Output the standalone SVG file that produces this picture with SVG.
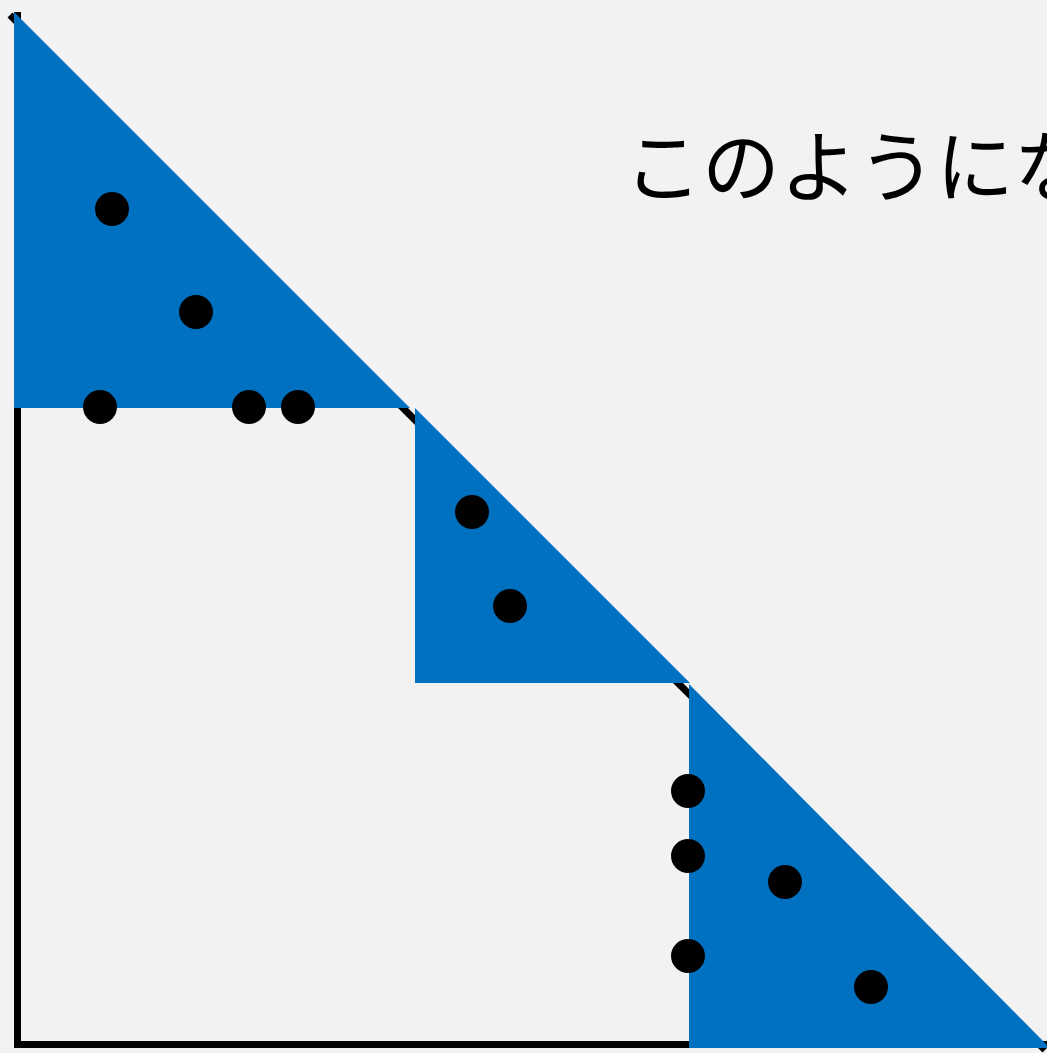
<svg xmlns="http://www.w3.org/2000/svg" width="1047" height="1053" viewBox="0 0 1047 1053">
<style>
.ax{stroke:#000;stroke-width:7;fill:none}
.tri{fill:#0070C0}
.dot{fill:#000}
.lbl{font-family:"Noto Sans CJK JP","Noto Sans",sans-serif;font-size:78px;fill:#000}
</style>
<rect width="1047" height="1053" fill="#F2F2F2"/>
<g id="axes">
<path class="ax" d="M17.5,12 V1044.5 H1047"/>
<line class="ax" x1="10" y1="15" x2="1045" y2="1050"/>
</g>
<g id="triangles">
<polygon id="t1" class="tri" points="14,12 14,408 410,408"/>
<polygon id="t2" class="tri" points="415,408 415,683 690,683"/>
<polygon id="t3" class="tri" points="689,684 689,1048 1050,1048 1047,1045"/>
</g>
<g id="dots">
<circle class="dot" cx="112" cy="209" r="17"/>
<circle class="dot" cx="196" cy="312" r="17"/>
<circle class="dot" cx="100" cy="407" r="17"/>
<circle class="dot" cx="249" cy="407" r="17"/>
<circle class="dot" cx="298" cy="407" r="17"/>
<circle class="dot" cx="472" cy="512" r="17"/>
<circle class="dot" cx="510" cy="606" r="17"/>
<circle class="dot" cx="688" cy="791" r="17"/>
<circle class="dot" cx="688" cy="856" r="17"/>
<circle class="dot" cx="785" cy="882" r="17"/>
<circle class="dot" cx="688" cy="956" r="17"/>
<circle class="dot" cx="871" cy="987" r="17"/>
</g>
<g id="label">
<text class="lbl" x="624" y="196">このようにな</text>
</g>
</svg>
